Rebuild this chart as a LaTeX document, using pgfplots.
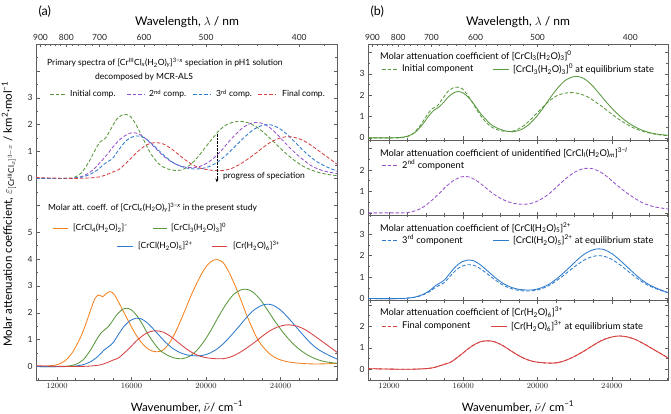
\documentclass[border=0pt]{standalone}
\usepackage{fontspec}
\setmainfont{Lato}
\usepackage{pgfplots}
\usepackage{pgfplotstable}
\pgfplotsset{compat=1.18}
\usetikzlibrary{arrows.meta}

\definecolor{cOr}{RGB}{243,130,33}
\definecolor{cGr}{RGB}{88,152,62}
\definecolor{cBl}{RGB}{45,122,205}
\definecolor{cRd}{RGB}{214,66,66}
\definecolor{cPu}{RGB}{150,82,205}
\definecolor{axc}{RGB}{95,95,95}

\newcommand{\sbs}[1]{\textsubscript{#1}}
\newcommand{\sps}[1]{\textsuperscript{#1}}

% lower (solid) spectra
\pgfplotstableread{
x y
10870 0.01
11500 0.02
12000 0.07
12400 0.2
12800 0.5
13200 1.0
13500 1.5
13800 2.1
14050 2.55
14250 2.66
14450 2.6
14650 2.72
14850 2.79
15050 2.7
15300 2.4
15600 2.0
15900 1.6
16200 1.22
16500 0.92
16800 0.7
17100 0.58
17400 0.55
17700 0.62
18000 0.85
18300 1.2
18600 1.65
18900 2.15
19200 2.65
19500 3.1
19800 3.5
20100 3.8
20400 3.96
20600 3.98
20900 3.88
21200 3.55
21500 3.1
21800 2.6
22100 2.05
22400 1.55
22700 1.1
23000 0.78
23400 0.48
23800 0.3
24300 0.19
24900 0.13
25600 0.1
26300 0.1
27027 0.12
}\tO

\pgfplotstableread{
x y
10870 0.0
12000 0.0
12600 0.02
13000 0.08
13400 0.25
13800 0.62
14100 0.98
14400 1.28
14700 1.45
14900 1.62
15200 1.92
15500 2.12
15750 2.17
16000 2.1
16300 1.88
16600 1.55
16900 1.18
17200 0.88
17500 0.62
17900 0.43
18300 0.32
18700 0.29
19100 0.38
19500 0.6
19900 0.95
20300 1.4
20700 1.9
21100 2.35
21500 2.7
21900 2.86
22200 2.87
22500 2.78
22900 2.5
23300 2.1
23700 1.68
24100 1.3
24500 0.97
24900 0.7
25400 0.45
25900 0.28
26400 0.18
27027 0.12
}\tG

\pgfplotstableread{
x y
10870 0
12500 0
13000 0.02
13400 0.07
13800 0.18
14200 0.38
14500 0.6
14750 0.73
15000 0.88
15300 1.2
15600 1.5
15900 1.7
16250 1.8
16500 1.78
16800 1.65
17100 1.45
17400 1.22
17800 0.92
18200 0.68
18600 0.52
19000 0.43
19400 0.4
19800 0.41
20200 0.5
20600 0.66
21000 0.9
21400 1.2
21800 1.52
22200 1.85
22600 2.12
23000 2.28
23300 2.32
23600 2.28
24000 2.1
24400 1.82
24800 1.5
25200 1.18
25600 0.88
26000 0.65
26500 0.45
27027 0.28
}\tB

\pgfplotstableread{
x y
10870 0.03
12000 0.01
13000 0.0
13800 0.02
14300 0.06
14700 0.15
15000 0.24
15300 0.32
15600 0.5
15900 0.7
16300 0.98
16700 1.2
17000 1.3
17350 1.33
17700 1.28
18100 1.12
18500 0.9
18900 0.68
19300 0.5
19700 0.38
20100 0.32
20600 0.29
21000 0.3
21400 0.38
21800 0.52
22200 0.7
22600 0.9
23000 1.12
23400 1.32
23800 1.46
24200 1.54
24500 1.55
24900 1.5
25300 1.38
25700 1.2
26100 1.0
26500 0.8
27027 0.53
}\tR

% MCR-ALS components (dashed)
\pgfplotstableread{
x y
10870 0
12500 0
12900 0.03
13300 0.2
13700 0.6
14000 1.0
14300 1.35
14600 1.5
14900 1.85
15200 2.2
15500 2.36
15700 2.38
15950 2.3
16200 2.05
16500 1.65
16800 1.22
17100 0.85
17500 0.52
17900 0.36
18300 0.3
18700 0.32
19100 0.48
19500 0.75
19900 1.1
20300 1.45
20700 1.78
21100 2.0
21500 2.1
21900 2.12
22300 2.06
22700 1.92
23100 1.7
23500 1.45
23900 1.18
24300 0.92
24800 0.64
25300 0.42
25900 0.25
26500 0.15
27027 0.1
}\tGd

\pgfplotstableread{
x y
10870 0
12700 0
13100 0.03
13500 0.12
13900 0.3
14300 0.58
14700 0.9
15100 1.25
15500 1.52
15900 1.68
16100 1.7
16400 1.65
16800 1.45
17200 1.18
17600 0.9
18000 0.68
18400 0.52
18800 0.43
19200 0.4
19600 0.43
20000 0.55
20400 0.75
20800 1.02
21200 1.35
21600 1.65
22000 1.9
22400 2.05
22700 2.08
23000 2.05
23400 1.9
23800 1.65
24200 1.35
24700 1.0
25200 0.7
25700 0.45
26300 0.28
27027 0.18
}\tP

\pgfplotstableread{
x y
10870 0
12600 0
13000 0.02
13400 0.06
13800 0.16
14200 0.33
14500 0.52
14750 0.63
15000 0.76
15300 1.05
15600 1.32
15900 1.5
16250 1.58
16500 1.57
16800 1.46
17100 1.28
17400 1.08
17800 0.82
18200 0.6
18600 0.46
19000 0.38
19400 0.35
19800 0.37
20200 0.45
20600 0.6
21000 0.82
21400 1.08
21800 1.36
22200 1.62
22600 1.84
23000 1.97
23300 2.0
23600 1.97
24000 1.83
24400 1.6
24800 1.33
25200 1.05
25600 0.8
26000 0.6
26500 0.42
27027 0.27
}\tBd

\pgfplotsset{
  base/.style={scale only axis, anchor=south west, xmin=10870, xmax=27027,
    tick align=inside,
    axis line style={draw=axc, line width=0.8pt},
    every tick/.style={draw=axc, line width=0.5pt},
    major tick length=3.5pt, minor tick length=2pt,
    tick label style={font=\fontsize{8.5}{9}\selectfont, text=black!85},
    xtick={12000,16000,20000,24000},
    minor xtick={11000,13000,14000,15000,17000,18000,19000,21000,22000,23000,25000,26000,27000},
    scaled x ticks=false,
    xticklabel style={/pgf/number format/set thousands separator={}, yshift=-2pt, inner sep=1pt},
    yticklabel pos=left, ytick pos=both,
  },
  wl/.style={scale only axis, anchor=south west, xmin=10870, xmax=27027, ymin=0, ymax=1,
    hide y axis, tick align=inside, scaled x ticks=false,
    axis line style={draw=axc, line width=0.8pt},
    every tick/.style={draw=axc, line width=0.5pt},
    major tick length=3.5pt, minor tick length=2pt,
    tick label style={font=\fontsize{8.5}{9}\selectfont, text=black!85},
    xtick pos=top, xticklabel pos=top,
    xtick={11111,12500,14286,16667,20000,25000},
    xticklabels={900,800,700,600,500,400},
    minor xtick={11364,11628,11905,12195,12821,13158,13514,13889,14706,15152,15625,16129,17241,17857,18519,19231,20833,21739,22727,23810,26316},
  },
  sol/.style={smooth, tension=0.5, line width=0.85pt},
  das/.style={smooth, tension=0.5, line width=0.85pt, dash pattern=on 3.5pt off 2pt},
}

\begin{document}
\begin{tikzpicture}
\useasboundingbox (0pt,0pt) rectangle (671pt,413pt);

% ================= panel (a) =================
\begin{axis}[base, at={(36pt,33pt)}, width=301pt, height=336pt,
  ymin=-0.5, ymax=12, xtick pos=bottom,
  ytick={0,1,2,3,4,5,6,7,8,9,10,11,12},
  yticklabels={0,1,2,3,4,5,,0,1,2,3,,},
  minor ytick={-0.5,0.5,1.5,2.5,3.5,4.5,5.5,6.5,7.5,8.5,9.5,10.5,11.5}]
\addplot[sol, cOr] table {\tO};
\addplot[sol, cGr] table {\tG};
\addplot[sol, cBl] table {\tB};
\addplot[sol, cRd] table {\tR};
\addplot[das, cGr] table[y expr=\thisrow{y}+7] {\tGd};
\addplot[das, cPu] table[y expr=\thisrow{y}+7] {\tP};
\addplot[das, cBl] table[y expr=\thisrow{y}+7] {\tBd};
\addplot[das, cRd] table[y expr=\thisrow{y}+7] {\tR};
\draw[-{Stealth[length=4pt,width=3pt]}, line width=0.6pt, dash pattern=on 2.5pt off 1pt] (axis cs:20580,8.65) -- (axis cs:20580,6.85);
\end{axis}
\begin{axis}[wl, at={(36pt,33pt)}, width=301pt, height=336pt]
\end{axis}

% ================= panel (b) =================
\begin{axis}[base, at={(368pt,273pt)}, width=300pt, height=96pt,
  ymin=-0.1, ymax=4.4, xticklabels={}, xtick pos=bottom,
  ytick={0,1,2,3,4}, yticklabels={0,1,2,3,}, minor ytick={0.5,1.5,2.5,3.5}]
\addplot[das, cGr] table {\tGd};
\addplot[sol, cGr] table {\tG};
\end{axis}
\begin{axis}[wl, at={(368pt,273pt)}, width=300pt, height=96pt]
\end{axis}
\begin{axis}[base, at={(368pt,198pt)}, width=300pt, height=75pt,
  ymin=-0.1, ymax=3.4, xticklabels={}, xtick pos=both,
  ytick={0,1,2,3}, yticklabels={0,1,2,}, minor ytick={0.5,1.5,2.5}]
\addplot[das, cPu] table {\tP};
\end{axis}
\begin{axis}[base, at={(368pt,112.3pt)}, width=300pt, height=85.7pt,
  ymin=-0.1, ymax=3.9, xticklabels={}, xtick pos=both,
  ytick={0,1,2,3}, yticklabels={0,1,2,3}, minor ytick={0.5,1.5,2.5,3.5}]
\addplot[das, cBl] table {\tBd};
\addplot[sol, cBl] table {\tB};
\end{axis}
\begin{axis}[base, at={(368pt,33pt)}, width=300pt, height=79.3pt,
  ymin=-0.5, ymax=3.2, xtick pos=both,
  ytick={0,1,2,3}, yticklabels={0,1,2,}, minor ytick={-0.5,0.5,1.5,2.5}]
\addplot[das, cRd] table {\tR};
\addplot[sol, cRd] table {\tR};
\end{axis}

% ================= texts panel (a) =================
\node[anchor=west, font=\fontsize{12.5}{14}\selectfont] at (35pt,401pt) {(a)};
\node[font=\fontsize{12}{13}\selectfont, inner sep=0pt] at (187pt,391pt) {Wavelength, $\lambda$ / nm};
\node[font=\fontsize{11.5}{12}\selectfont, inner sep=0pt] at (187pt,6pt) {Wavenumber, $\tilde{\nu}$/ cm\sps{−1}};
\node[rotate=90, font=\fontsize{11.5}{13}\selectfont] at (9pt,199pt) {Molar attenuation coefficient, $\varepsilon_{[\mathrm{Cr^{III}Cl}_x]^{3-x}}$ / km\sps{2}·mol\sps{−1}};

\begin{scope}[every node/.style={anchor=west, font=\fontsize{8.5}{9}\selectfont, inner sep=0pt}]
\node at (47pt,350pt) {Primary spectra of [Cr\sps{III}Cl\sbs{\textit{x}}(H\sbs{2}O)\sbs{\textit{y}}]\sps{3−\textit{x}} speciation in pH1 solution};
\node at (95pt,336pt) {decomposed by MCR-ALS};
\draw[cGr, line width=0.85pt, dash pattern=on 3.5pt off 2pt] (50pt,319pt) -- (66pt,319pt);
\node at (70pt,319pt) {Initial comp.};
\draw[cPu, line width=0.85pt, dash pattern=on 3.5pt off 2pt] (127pt,319pt) -- (145pt,319pt);
\node at (149pt,319pt) {2\sps{nd} comp.};
\draw[cBl, line width=0.85pt, dash pattern=on 3.5pt off 2pt] (193pt,319pt) -- (211pt,319pt);
\node at (216pt,319pt) {3\sps{rd} comp.};
\draw[cRd, line width=0.85pt, dash pattern=on 3.5pt off 2pt] (258pt,319pt) -- (276pt,319pt);
\node at (282pt,319pt) {Final comp.};
\node at (223pt,236.5pt) {progress of speciation};

\node at (48pt,205.3pt) {Molar att. coeff. of [CrCl\sbs{\textit{x}}(H\sbs{2}O)\sbs{\textit{y}}]\sps{3−\textit{x}} in the present study};
\draw[cOr, line width=0.85pt] (53pt,185pt) -- (68pt,185pt);
\node at (73pt,185pt) {[CrCl\sbs{4}(H\sbs{2}O)\sbs{2}]\sps{−}};
\draw[cGr, line width=0.85pt] (153pt,185pt) -- (167pt,185pt);
\node at (171pt,185pt) {[CrCl\sbs{3}(H\sbs{2}O)\sbs{3}]\sps{0}};
\draw[cBl, line width=0.85pt] (117pt,167pt) -- (133pt,167pt);
\node at (138pt,167pt) {[CrCl(H\sbs{2}O)\sbs{5}]\sps{2+}};
\draw[cRd, line width=0.85pt] (212pt,167pt) -- (227pt,167pt);
\node at (233pt,167pt) {[Cr(H\sbs{2}O)\sbs{6}]\sps{3+}};
\end{scope}

% ================= texts panel (b) =================
\begin{scope}[every node/.style={anchor=west, font=\fontsize{9.3}{10}\selectfont, inner sep=0pt}]
\node at (380pt,357.3pt) {Molar attenuation coefficient of [CrCl\sbs{3}(H\sbs{2}O)\sbs{3}]\sps{0}};
\draw[cGr, line width=0.85pt, dash pattern=on 3.5pt off 2pt] (382pt,344pt) -- (398pt,344pt);
\node at (402pt,344pt) {Initial component};
\draw[cGr, line width=0.85pt] (493pt,344pt) -- (509pt,344pt);
\node at (513pt,344pt) {[CrCl\sbs{3}(H\sbs{2}O)\sbs{3}]\sps{0} at equilibrium state};

\node at (380pt,260.3pt) {Molar attenuation coefficient of unidentified [CrCl\sbs{\textit{l}}(H\sbs{2}O)\sbs{\textit{m}}]\sps{3−\textit{l}}};
\draw[cPu, line width=0.85pt, dash pattern=on 3.5pt off 2pt] (382pt,248pt) -- (398pt,248pt);
\node at (402pt,248pt) {2\sps{nd} component};

\node at (380pt,185.3pt) {Molar attenuation coefficient of [CrCl(H\sbs{2}O)\sbs{5}]\sps{2+}};
\draw[cBl, line width=0.85pt, dash pattern=on 3.5pt off 2pt] (382pt,173pt) -- (398pt,173pt);
\node at (402pt,173pt) {3\sps{rd} component};
\draw[cBl, line width=0.85pt] (493pt,173pt) -- (509pt,173pt);
\node at (513pt,173pt) {[CrCl(H\sbs{2}O)\sbs{5}]\sps{2+} at equilibrium state};

\node at (380pt,101pt) {Molar attenuation coefficient of [Cr(H\sbs{2}O)\sbs{6}]\sps{3+}};
\draw[cRd, line width=0.85pt, dash pattern=on 3.5pt off 2pt] (382pt,87pt) -- (398pt,87pt);
\node at (402pt,87pt) {Final component};
\draw[cRd, line width=0.85pt] (491pt,87pt) -- (507pt,87pt);
\node at (511pt,87pt) {[Cr(H\sbs{2}O)\sbs{6}]\sps{3+} at equilibrium state};
\end{scope}

\node[anchor=west, font=\fontsize{12.5}{14}\selectfont] at (367pt,401pt) {(b)};
\node[font=\fontsize{12}{13}\selectfont, inner sep=0pt] at (518pt,391pt) {Wavelength, $\lambda$ / nm};
\node[font=\fontsize{11.5}{12}\selectfont, inner sep=0pt] at (518pt,6pt) {Wavenumber, $\tilde{\nu}$/ cm\sps{−1}};
\end{tikzpicture}
\end{document}
